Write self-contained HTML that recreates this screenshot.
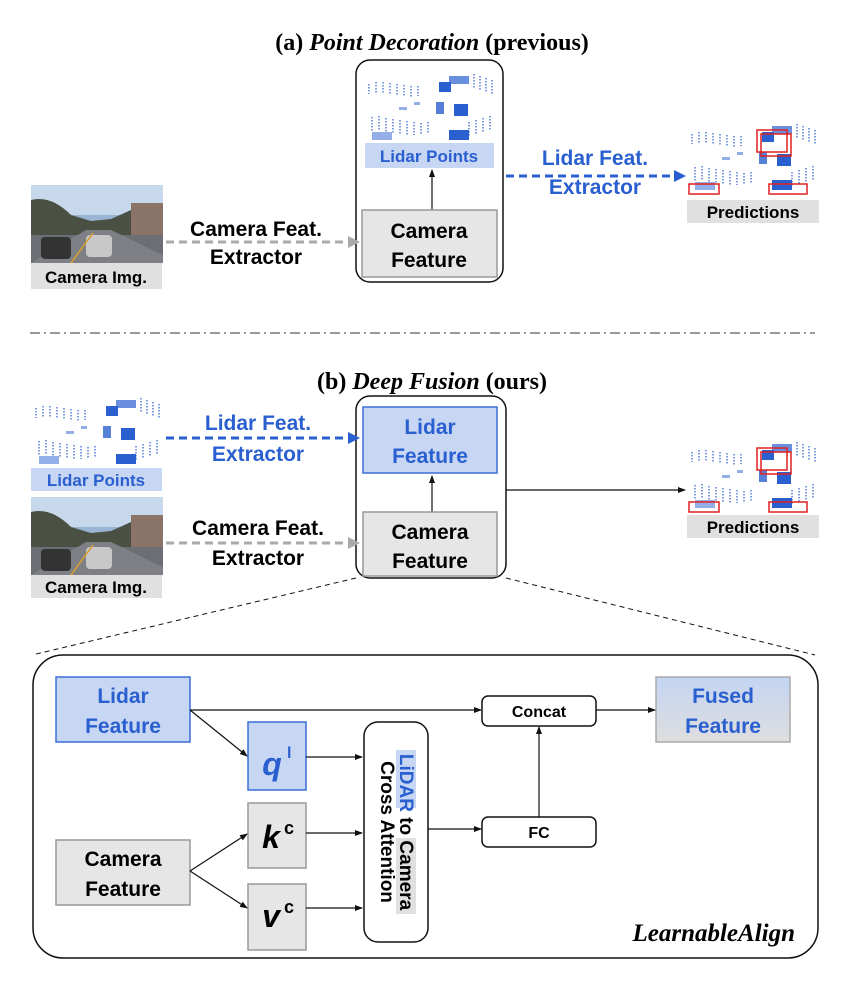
<!DOCTYPE html>
<html><head><meta charset="utf-8"><style>
html,body{margin:0;padding:0;background:#fff}
svg{display:block}
.s{font-family:"Liberation Sans",sans-serif;font-weight:bold}
.t{font-family:"Liberation Serif",serif;font-weight:bold}
</style></head><body>
<svg width="864" height="982" viewBox="0 0 864 982" xmlns="http://www.w3.org/2000/svg">
<defs>
<marker id="ak" markerWidth="8" markerHeight="8" refX="7" refY="4" orient="auto" markerUnits="userSpaceOnUse"><path d="M0,1 L8,4 L0,7 z" fill="#111"/></marker>
<marker id="ab" markerWidth="12" markerHeight="12" refX="10" refY="6" orient="auto" markerUnits="userSpaceOnUse"><path d="M0,0 L12,6 L0,12 z" fill="#2a5fd0"/></marker>
<marker id="ag" markerWidth="12" markerHeight="12" refX="10" refY="6" orient="auto" markerUnits="userSpaceOnUse"><path d="M0,0 L12,6 L0,12 z" fill="#aaa"/></marker>
<linearGradient id="fg" x1="0" y1="0" x2="0" y2="1"><stop offset="0" stop-color="#c3d4f2"/><stop offset="1" stop-color="#dedede"/></linearGradient>
<g id="lidar">
 <rect width="132" height="72" fill="#fff"/>
 <g stroke="#3a6ad0" stroke-width="1.3" stroke-dasharray="1.5,1.5">
  <path d="M5,12 v10 M12,10 v12 M19,10 v12 M26,11 v12 M33,12 v12 M40,13 v12 M47,14 v11 M54,14 v10 M110,2 v14 M116,4 v14 M122,6 v14 M128,8 v14"/>
  <path d="M8,45 v14 M15,44 v15 M22,46 v14 M29,47 v14 M36,48 v14 M43,49 v14 M50,50 v13 M57,51 v12 M64,50 v12 M105,50 v14 M112,48 v14 M119,46 v14 M126,44 v14"/>
 </g>
 <g fill="#2a5fd0">
  <rect x="75" y="10" width="12" height="10"/><rect x="85" y="4" width="20" height="8" opacity=".7"/>
  <rect x="72" y="30" width="8" height="12" opacity=".8"/><rect x="90" y="32" width="14" height="12"/>
  <rect x="85" y="58" width="20" height="10"/><rect x="8" y="60" width="20" height="8" opacity=".5"/>
  <rect x="35" y="35" width="8" height="3" opacity=".5"/><rect x="50" y="30" width="6" height="3" opacity=".5"/>
 </g>
</g>
<g id="cam">
 <rect width="132" height="78" fill="#9ab4d6"/>
 <rect y="0" width="132" height="30" fill="#c8d8ec"/>
 <path d="M0,15 Q20,10 40,30 L60,36 L80,34 L100,25 L132,20 L132,55 L0,55z" fill="#4a5044"/>
 <rect x="100" y="18" width="32" height="32" fill="#8a7468"/>
 <path d="M0,50 L132,50 L132,78 L0,78z" fill="#6b6e72"/>
 <path d="M0,78 L55,45 L80,45 L132,70 L132,78z" fill="#7e8085"/>
 <rect x="10" y="52" width="30" height="22" rx="4" fill="#333"/>
 <rect x="55" y="50" width="26" height="22" rx="4" fill="#c8c8c8"/>
 <path d="M40,78 L62,48" stroke="#d6a030" stroke-width="1.5"/>
</g>
<g id="pred">
 <use href="#lidar"/>
 <g fill="none" stroke="#e02020" stroke-width="1.5">
  <rect x="70" y="8" width="30" height="22"/><rect x="74" y="12" width="30" height="22"/>
  <rect x="2" y="62" width="30" height="10"/><rect x="82" y="62" width="38" height="10"/>
 </g>
</g>
</defs>

<!-- (a) -->
<text x="432" y="50" text-anchor="middle" class="t" font-size="24">(a) <tspan font-style="italic">Point Decoration</tspan> (previous)</text>
<rect x="356" y="60" width="147" height="222" rx="14" fill="none" stroke="#111" stroke-width="1.5"/>
<use href="#lidar" x="364" y="72"/>
<rect x="365" y="143" width="129" height="25" fill="#c6d6f3"/>
<text x="429" y="162" text-anchor="middle" class="s" font-size="17" fill="#2a5fd0">Lidar Points</text>
<line x1="432" y1="210" x2="432" y2="170" stroke="#111" stroke-width="1.2" marker-end="url(#ak)"/>
<rect x="362" y="210" width="135" height="67" fill="#e6e6e6" stroke="#999" stroke-width="1.5"/>
<text x="429" y="238" text-anchor="middle" class="s" font-size="21">Camera</text>
<text x="429" y="267" text-anchor="middle" class="s" font-size="21">Feature</text>
<use href="#cam" x="31" y="185"/>
<rect x="31" y="263" width="131" height="26" fill="#e0e0e0"/>
<text x="96" y="283" text-anchor="middle" class="s" font-size="17">Camera Img.</text>
<line x1="166" y1="242" x2="358" y2="242" stroke="#aaa" stroke-width="3" stroke-dasharray="8,5" marker-end="url(#ag)"/>
<text x="256" y="236" text-anchor="middle" class="s" font-size="21">Camera Feat.</text>
<text x="256" y="264" text-anchor="middle" class="s" font-size="21">Extractor</text>
<line x1="506" y1="176" x2="684" y2="176" stroke="#2a5fd0" stroke-width="3" stroke-dasharray="8,5" marker-end="url(#ab)"/>
<text x="595" y="165" text-anchor="middle" class="s" font-size="21" fill="#2a5fd0">Lidar Feat.</text>
<text x="595" y="194" text-anchor="middle" class="s" font-size="21" fill="#2a5fd0">Extractor</text>
<use href="#pred" x="687" y="122"/>
<rect x="687" y="200" width="132" height="23" fill="#e0e0e0"/>
<text x="753" y="218" text-anchor="middle" class="s" font-size="17">Predictions</text>

<line x1="30" y1="333" x2="815" y2="333" stroke="#333" stroke-width="1" stroke-dasharray="10,4,2,4"/>

<!-- (b) -->
<text x="432" y="389" text-anchor="middle" class="t" font-size="24">(b) <tspan font-style="italic">Deep Fusion</tspan> (ours)</text>
<use href="#lidar" x="31" y="396"/>
<rect x="31" y="468" width="131" height="23" fill="#c6d6f3"/>
<text x="96" y="486" text-anchor="middle" class="s" font-size="17" fill="#2a5fd0">Lidar Points</text>
<use href="#cam" x="31" y="497"/>
<rect x="31" y="575" width="131" height="23" fill="#e0e0e0"/>
<text x="96" y="593" text-anchor="middle" class="s" font-size="17">Camera Img.</text>
<rect x="356" y="396" width="150" height="182" rx="14" fill="none" stroke="#111" stroke-width="1.5"/>
<rect x="363" y="407" width="134" height="66" fill="#c6d6f3" stroke="#3b6fd8" stroke-width="1.5"/>
<text x="430" y="434" text-anchor="middle" class="s" font-size="21" fill="#2a5fd0">Lidar</text>
<text x="430" y="463" text-anchor="middle" class="s" font-size="21" fill="#2a5fd0">Feature</text>
<line x1="432" y1="512" x2="432" y2="476" stroke="#111" stroke-width="1.2" marker-end="url(#ak)"/>
<rect x="363" y="512" width="134" height="64" fill="#e6e6e6" stroke="#999" stroke-width="1.5"/>
<text x="430" y="539" text-anchor="middle" class="s" font-size="21">Camera</text>
<text x="430" y="568" text-anchor="middle" class="s" font-size="21">Feature</text>
<line x1="166" y1="438" x2="358" y2="438" stroke="#2a5fd0" stroke-width="3" stroke-dasharray="8,5" marker-end="url(#ab)"/>
<text x="258" y="430" text-anchor="middle" class="s" font-size="21" fill="#2a5fd0">Lidar Feat.</text>
<text x="258" y="461" text-anchor="middle" class="s" font-size="21" fill="#2a5fd0">Extractor</text>
<line x1="166" y1="543" x2="358" y2="543" stroke="#aaa" stroke-width="3" stroke-dasharray="8,5" marker-end="url(#ag)"/>
<text x="258" y="535" text-anchor="middle" class="s" font-size="21">Camera Feat.</text>
<text x="258" y="565" text-anchor="middle" class="s" font-size="21">Extractor</text>
<line x1="506" y1="490" x2="685" y2="490" stroke="#111" stroke-width="1.2" marker-end="url(#ak)"/>
<use href="#pred" x="687" y="440"/>
<rect x="687" y="515" width="132" height="23" fill="#e0e0e0"/>
<text x="753" y="533" text-anchor="middle" class="s" font-size="17">Predictions</text>
<line x1="356" y1="578" x2="32" y2="655" stroke="#111" stroke-width="1" stroke-dasharray="5,4"/>
<line x1="506" y1="578" x2="815" y2="655" stroke="#111" stroke-width="1" stroke-dasharray="5,4"/>

<!-- LearnableAlign -->
<rect x="33" y="655" width="785" height="303" rx="30" fill="none" stroke="#111" stroke-width="1.5"/>
<rect x="56" y="677" width="134" height="65" fill="#c6d6f3" stroke="#3b6fd8" stroke-width="1.5"/>
<text x="123" y="703" text-anchor="middle" class="s" font-size="21" fill="#2a5fd0">Lidar</text>
<text x="123" y="733" text-anchor="middle" class="s" font-size="21" fill="#2a5fd0">Feature</text>
<rect x="56" y="840" width="134" height="65" fill="#e6e6e6" stroke="#999" stroke-width="1.5"/>
<text x="123" y="866" text-anchor="middle" class="s" font-size="21">Camera</text>
<text x="123" y="896" text-anchor="middle" class="s" font-size="21">Feature</text>
<rect x="248" y="722" width="58" height="68" fill="#c6d6f3" stroke="#3b6fd8" stroke-width="1.5"/>
<text x="272" y="775" text-anchor="middle" class="s" font-size="32" font-style="italic" fill="#2a5fd0">q</text><text x="287" y="758" class="s" font-size="16" fill="#2a5fd0">l</text>
<rect x="248" y="803" width="58" height="65" fill="#e6e6e6" stroke="#999" stroke-width="1.5"/>
<text x="271" y="848" text-anchor="middle" class="s" font-size="32" font-style="italic">k</text><text x="284" y="834" class="s" font-size="18">c</text>
<rect x="248" y="884" width="58" height="66" fill="#e6e6e6" stroke="#999" stroke-width="1.5"/>
<text x="271" y="927" text-anchor="middle" class="s" font-size="32" font-style="italic">v</text><text x="284" y="913" class="s" font-size="18">c</text>
<rect x="364" y="722" width="64" height="220" rx="14" fill="#fff" stroke="#111" stroke-width="1.5"/>
<g transform="translate(396,832) rotate(90)">
 <rect x="-82" y="-20" width="58" height="20" fill="#c6d6f3"/>
 <rect x="6" y="-20" width="76" height="20" fill="#e0e0e0"/>
 <text x="0" y="-4" text-anchor="middle" class="s" font-size="19"><tspan fill="#2a5fd0">LiDAR</tspan> to Camera</text>
 <text x="0" y="15" text-anchor="middle" class="s" font-size="19">Cross Attention</text>
</g>
<rect x="482" y="696" width="114" height="30" rx="6" fill="#fff" stroke="#111" stroke-width="1.5"/>
<text x="539" y="717" text-anchor="middle" class="s" font-size="16">Concat</text>
<rect x="482" y="817" width="114" height="30" rx="6" fill="#fff" stroke="#111" stroke-width="1.5"/>
<text x="539" y="838" text-anchor="middle" class="s" font-size="16">FC</text>
<rect x="656" y="677" width="134" height="65" fill="url(#fg)" stroke="#aaa" stroke-width="1.5"/>
<text x="723" y="703" text-anchor="middle" class="s" font-size="21" fill="#2a5fd0">Fused</text>
<text x="723" y="733" text-anchor="middle" class="s" font-size="21" fill="#2a5fd0">Feature</text>
<g stroke="#111" stroke-width="1.2" fill="none">
 <line x1="190" y1="710" x2="481" y2="710" marker-end="url(#ak)"/>
 <line x1="190" y1="710" x2="247" y2="756" marker-end="url(#ak)"/>
 <line x1="306" y1="757" x2="362" y2="757" marker-end="url(#ak)"/>
 <line x1="190" y1="871" x2="247" y2="834" marker-end="url(#ak)"/>
 <line x1="190" y1="871" x2="247" y2="908" marker-end="url(#ak)"/>
 <line x1="306" y1="833" x2="362" y2="833" marker-end="url(#ak)"/>
 <line x1="306" y1="908" x2="362" y2="908" marker-end="url(#ak)"/>
 <line x1="428" y1="829" x2="481" y2="829" marker-end="url(#ak)"/>
 <line x1="539" y1="817" x2="539" y2="727" marker-end="url(#ak)"/>
 <line x1="596" y1="710" x2="655" y2="710" marker-end="url(#ak)"/>
</g>
<text x="795" y="941" text-anchor="end" class="t" font-size="25" font-style="italic">LearnableAlign</text>
</svg>
</body></html>
